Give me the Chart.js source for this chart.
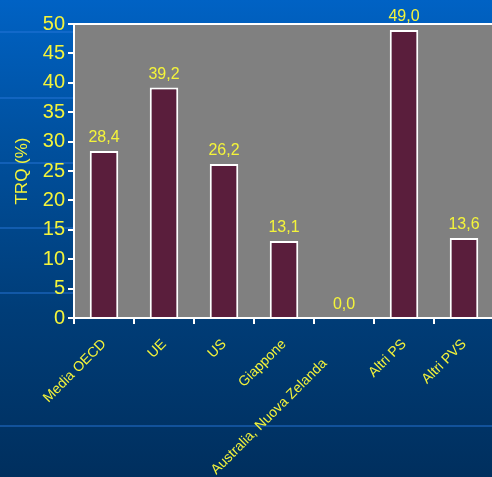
<!DOCTYPE html>
<html lang="it">
<head>
  <meta charset="UTF-8">
  <title>TRQ (%)</title>
  <script src="https://cdn.jsdelivr.net/npm/chart.js"></script>
  <style>
    html, body {
      margin: 0;
      padding: 0;
      overflow: hidden;
    }
    body {
      width: 492px;
      height: 477px;
      background: linear-gradient(to bottom, #0062c4 0%, #00509e 30%, #003d78 65%, #002f5e 100%);
    }
    /* righe decorative dello sfondo */
    .riga {
      position: absolute;
      left: 0;
      width: 492px;
      height: 2px;
      background: rgba(40, 120, 220, 0.45);
    }
    #wrap {
      position: relative;
      width: 520px;
      height: 477px;
    }
  </style>
</head>
<body>
  <div class="riga" style="top:31px"></div>
  <div class="riga" style="top:97px"></div>
  <div class="riga" style="top:162px"></div>
  <div class="riga" style="top:227px"></div>
  <div class="riga" style="top:292px"></div>
  <div class="riga" style="top:425px"></div>
  <div id="wrap"><canvas id="trqChart"></canvas></div>

  <script>
    // dati
    const categorie = ['Media OECD', 'UE', 'US', 'Giappone', 'Australia, Nuova Zelanda', 'Altri PS', 'Altri PVS'];
    const valori = [28.4, 39.2, 26.2, 13.1, 0.0, 49.0, 13.6];
    const tickY = [0, 5, 10, 15, 20, 25, 30, 35, 40, 45, 50];

    const giallo = '#f4f43a';

    // sfondo grigio dell'area del grafico con bordo bianco
    const areaGrigia = {
      id: 'areaGrigia',
      beforeDraw(chart) {
        const a = chart.chartArea;
        const ctx = chart.ctx;
        ctx.save();
        ctx.fillStyle = '#808080';
        ctx.fillRect(a.left, a.top, a.right - a.left, a.bottom - a.top);
        ctx.strokeStyle = '#ffffff';
        ctx.lineWidth = 2;
        ctx.beginPath();
        ctx.moveTo(a.left, a.bottom);
        ctx.lineTo(a.left, a.top);
        ctx.lineTo(a.right + 10, a.top);
        ctx.stroke();
        ctx.restore();
      }
    };

    // etichette dei valori sopra le barre
    const etichette = {
      id: 'etichette',
      afterDatasetsDraw(chart) {
        const ctx = chart.ctx;
        const meta = chart.getDatasetMeta(0);
        ctx.save();
        ctx.fillStyle = giallo;
        ctx.font = '16px "Liberation Sans", Arial, sans-serif';
        ctx.textAlign = 'center';
        ctx.textBaseline = 'bottom';
        meta.data.forEach((bar, i) => {
          const txt = valori[i].toFixed(1).replace('.', ',');
          ctx.fillText(txt, bar.x, bar.y - 5);
        });
        ctx.restore();
      }
    };

    const ctx = document.getElementById('trqChart').getContext('2d');
    new Chart(ctx, {
      type: 'bar',
      data: {
        labels: categorie,
        datasets: [{
          data: valori,
          backgroundColor: '#5a1e3c',
          borderColor: '#ffffff',
          borderWidth: 2,
          barPercentage: 0.5,
          categoryPercentage: 0.95
        }]
      },
      options: {
        responsive: true,
        maintainAspectRatio: false,
        animation: false,
        layout: {
          padding: { top: 24, right: 26, left: 0, bottom: 0 }
        },
        plugins: {
          legend: { display: false },
          tooltip: { enabled: false }
        },
        scales: {
          x: {
            afterFit(scale) { scale.height = 159; },
            grid: {
              drawOnChartArea: false,
              drawTicks: true,
              tickLength: 6,
              color: '#ffffff',
              lineWidth: 2
            },
            border: { color: '#ffffff', width: 2 },
            ticks: {
              color: giallo,
              autoSkip: false,
              minRotation: 45,
              maxRotation: 45,
              padding: 12,
              // l'etichetta lunga nell'originale scende un po' più in basso
              callback(value, i) {
                const t = categorie[i];
                return i === 4 ? t + '       ' : t;
              },
              font: { family: '"Liberation Sans Narrow", "Liberation Sans", Arial, sans-serif', size: 14 }
            }
          },
          y: {
            min: 0,
            max: 50,
            afterFit(scale) { scale.width = 74; },
            afterBuildTicks(scale) { scale.ticks = tickY.map(v => ({ value: v })); },
            grid: {
              drawOnChartArea: false,
              drawTicks: true,
              tickLength: 6,
              color: '#ffffff',
              lineWidth: 2
            },
            border: { color: '#ffffff', width: 2 },
            ticks: {
              color: giallo,
              padding: 3,
              font: { family: '"Liberation Sans", Arial, sans-serif', size: 20 }
            },
            title: {
              display: true,
              text: 'TRQ (%)',
              color: giallo,
              padding: { top: 12, bottom: 0 },
              font: { family: '"Liberation Sans", Arial, sans-serif', size: 17 }
            }
          }
        }
      },
      plugins: [areaGrigia, etichette]
    });
  </script>
</body>
</html>
